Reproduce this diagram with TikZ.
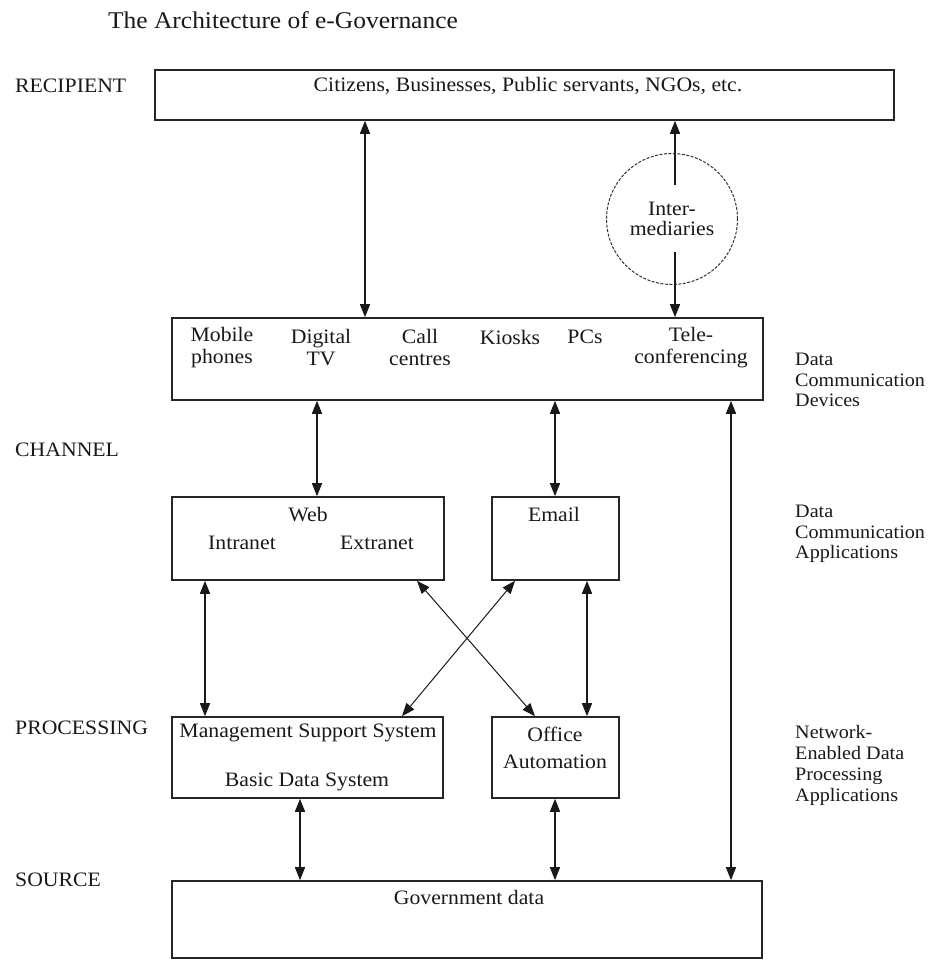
\documentclass[tikz,border=0pt]{standalone}
\usepackage{fontspec}
\setmainfont[FakeStretch=1.06]{Liberation Serif}
\usetikzlibrary{arrows.meta}
\begin{document}
\begin{tikzpicture}[x=1pt,y=-1pt,
 box/.style={draw=black!85, line width=1.6pt, inner sep=0pt},
 txt/.style={inner sep=0pt, font=\fontsize{20.5}{21.5}\selectfont, align=center, text=black!90},
 lab/.style={txt, anchor=west, align=left},
 rlab/.style={lab, font=\fontsize{19}{20.5}\selectfont},
 dbl/.style={line width=1.4pt, draw=black!90, {Triangle[length=13pt,width=10pt]}-{Triangle[length=13pt,width=10pt]}},
 arr/.style={line width=1.4pt, draw=black!90, -{Triangle[length=13pt,width=10pt]}},
 thin dbl/.style={dbl, line width=1pt},
]
\fill[white] (0,0) rectangle (930,960);
\useasboundingbox (0,0) rectangle (930,960);

% title and level labels
\node[txt, anchor=west, font=\fontsize{24}{26}\selectfont] (title) at (108,20) {The Architecture of e-Governance};
\node[lab] (lrec) at (15,86) {RECIPIENT};
\node[lab] (lchan) at (15,450) {CHANNEL};
\node[lab] (lproc) at (15,728) {PROCESSING};
\node[lab] (lsrc) at (15,880) {SOURCE};

% right labels
\node[rlab] (rdev) at (795,380) {Data\\Communication\\Devices};
\node[rlab] (rapp) at (795,534) {Data\\Communication\\Applications};
\node[rlab, font=\fontsize{19}{21}\selectfont] (rproc) at (795,765) {Network-\\Enabled Data\\Processing\\Applications};

% boxes
\node[box, minimum width=739pt, minimum height=50pt] (rec) at (524.5,95) {};
\node[box, minimum width=591pt, minimum height=82pt] (chan) at (467.5,359) {};
\node[box, minimum width=272pt, minimum height=83pt] (web) at (308,538.5) {};
\node[box, minimum width=127pt, minimum height=83pt] (email) at (555.5,538.5) {};
\node[box, minimum width=271pt, minimum height=81pt] (mss) at (307.5,757.5) {};
\node[box, minimum width=127pt, minimum height=81pt] (office) at (555.5,757.5) {};
\node[box, minimum width=590pt, minimum height=77pt] (gov) at (467,919.5) {};

% intermediaries
\node[circle, draw=black!80, line width=1pt, dash pattern=on 3pt off 1.5pt, minimum size=131pt, txt, font=\fontsize{20.5}{20}\selectfont] (inter) at (672,219) {Inter-\\mediaries};

% texts in boxes
\node[txt] (citz) at (528,86) {Citizens, Businesses, Public servants, NGOs, etc.};
\node[txt] (mob) at (222,347.5) {Mobile\\phones};
\node[txt] (dtv) at (321,347.5) {Digital\\TV};
\node[txt] (call) at (420,347.5) {Call\\centres};
\node[txt] (kio) at (510,337) {Kiosks};
\node[txt] (pcs) at (585,337) {PCs};
\node[txt] (tele) at (691,347.5) {Tele-\\conferencing};
\node[txt] (tweb) at (308,515) {Web};
\node[txt] (tintra) at (242,543) {Intranet};
\node[txt] (textra) at (377,543) {Extranet};
\node[txt] (temail) at (554,514) {Email};
\node[txt] (tmss) at (308,733) {Management Support System};
\node[txt] (tbds) at (307,782) {Basic Data System};
\node[txt] (toff) at (555,748) {Office\\[6pt]Automation};
\node[txt] (tgov) at (469,897) {Government data};

% connector x positions
\coordinate (xa) at (365,0);
\coordinate (i1) at (675,185);
\coordinate (i2) at (675,252);
\coordinate (xb) at (317,0);
\coordinate (xc) at (555,0);
\coordinate (xd) at (731,0);
\coordinate (xe) at (205,0);
\coordinate (xf) at (587,0);
\coordinate (xg) at (300,0);
\coordinate (xh) at (555,0);
\coordinate (c1) at (417,0);
\coordinate (c2) at (535,0);
\coordinate (c3) at (515,0);
\coordinate (c4) at (402,0);

% connectors
\draw[dbl] (rec.south -| xa) -- (chan.north -| xa);
\draw[arr] (i1) -- (rec.south -| i1);
\draw[arr] (i2) -- (chan.north -| i2);
\draw[dbl] (chan.south -| xb) -- (web.north -| xb);
\draw[dbl] (chan.south -| xc) -- (email.north -| xc);
\draw[dbl] (chan.south -| xd) -- (gov.north -| xd);
\draw[dbl] (web.south -| xe) -- (mss.north -| xe);
\draw[dbl] (email.south -| xf) -- (office.north -| xf);
\draw[thin dbl] (web.south -| c1) -- (office.north -| c2);
\draw[thin dbl] (email.south -| c3) -- (mss.north -| c4);
\draw[dbl] (mss.south -| xg) -- (gov.north -| xg);
\draw[dbl] (office.south -| xh) -- (gov.north -| xh);
\end{tikzpicture}
\end{document}
